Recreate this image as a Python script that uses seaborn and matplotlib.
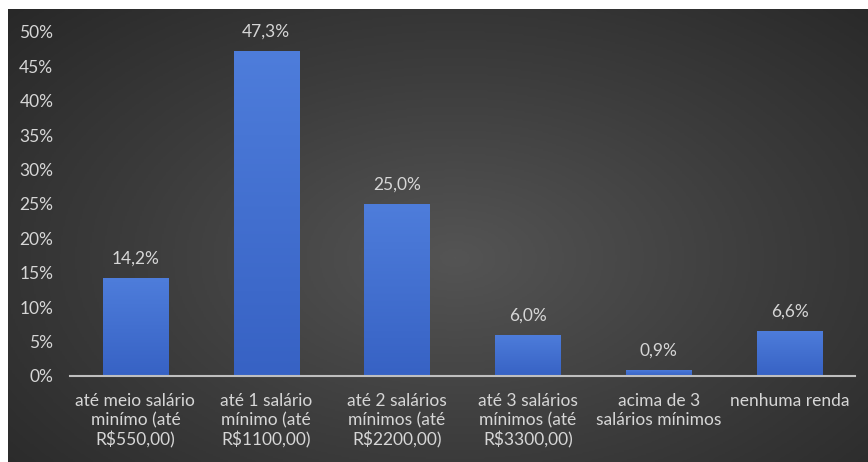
import numpy as np
import pandas as pd
import matplotlib
matplotlib.use("Agg")
import matplotlib.pyplot as plt
import seaborn as sns
from matplotlib.colors import LinearSegmentedColormap

# Income brackets and share of respondents (%)
categories = [
    "até meio salário\nminímo (até\nR$550,00)",
    "até 1 salário\nmínimo (até\nR$1100,00)",
    "até 2 salários\nmínimos (até\nR$2200,00)",
    "até 3 salários\nmínimos (até\nR$3300,00)",
    "acima de 3\nsalários mínimos",
    "nenhuma renda",
]
values = [14.2, 47.3, 25.0, 6.0, 0.9, 6.6]
y_ticks = [0, 5, 10, 15, 20, 25, 30, 35, 40, 45, 50]

df = pd.DataFrame({"faixa": categories, "pct": values})

sns.set_theme(style="white")
plt.rcParams["font.family"] = ["Lato", "DejaVu Sans"]

W, H = 868, 462
fig = plt.figure(figsize=(W / 100, H / 100), dpi=100)
fig.patch.set_facecolor("white")

# Dark radial-gradient backdrop with a thin white margin on top and left
bg_ax = fig.add_axes([8 / W, 0, 1 - 8 / W, 1 - 9 / H])
bg_ax.set_axis_off()
yy, xx = np.mgrid[0:1:300j, 0:1:500j]
r = np.sqrt(((xx - 0.52) / 0.75) ** 2 + ((yy - 0.55) / 0.85) ** 2)
r = np.clip(r, 0, 1)
bg_cmap = LinearSegmentedColormap.from_list("bg", ["#545454", "#3c3c3c", "#262626"])
bg_ax.imshow(r, cmap=bg_cmap, aspect="auto", extent=[0, 1, 0, 1], vmin=0, vmax=1)

ax = fig.add_axes([70 / W, 86 / H, 785 / W, (376 - 32) / H])
ax.set_facecolor("none")

sns.barplot(data=df, x="faixa", y="pct", color="#4472c4", width=0.5,
            ax=ax, saturation=1, linewidth=0)

# Vertical gradient fill inside each bar
bar_cmap = LinearSegmentedColormap.from_list("bar", ["#3762c4", "#4e7ddb"])
grad = np.linspace(0, 1, 256).reshape(-1, 1)
for patch in ax.patches:
    x0, y0 = patch.get_x(), patch.get_y()
    w, h = patch.get_width(), patch.get_height()
    im = ax.imshow(grad, cmap=bar_cmap, aspect="auto", origin="lower",
                   extent=[x0, x0 + w, y0, y0 + h], zorder=patch.get_zorder() + 0.1)
    im.set_clip_path(patch)

ax.set_xlim(-0.5, len(categories) - 0.5)
ax.set_ylim(0, 50)
ax.set_yticks(y_ticks)
ax.set_yticklabels([f"{t}%" for t in y_ticks])
ax.set_xlabel("")
ax.set_ylabel("")

text_col = "#d6d6d6"
fs = 12.5
ax.tick_params(axis="y", colors=text_col, labelsize=fs, length=0, pad=12)
ax.tick_params(axis="x", colors=text_col, labelsize=fs, length=0, pad=12)
for lab in ax.get_xticklabels():
    lab.set_linespacing(1.24)

for side in ["top", "right", "left"]:
    ax.spines[side].set_visible(False)
ax.spines["bottom"].set_color("#bfbfbf")
ax.spines["bottom"].set_linewidth(1.5)
ax.spines["bottom"].set_zorder(5)

for i, v in enumerate(values):
    ax.annotate(f"{v:.1f}%".replace(".", ","), (i, v), xytext=(0, 14),
                textcoords="offset points", ha="center", va="center",
                color=text_col, fontsize=fs)

ax.set_xlim(-0.5, len(categories) - 0.5)
ax.set_ylim(0, 50)

fig.savefig("out.png", dpi=100, facecolor=fig.get_facecolor())
